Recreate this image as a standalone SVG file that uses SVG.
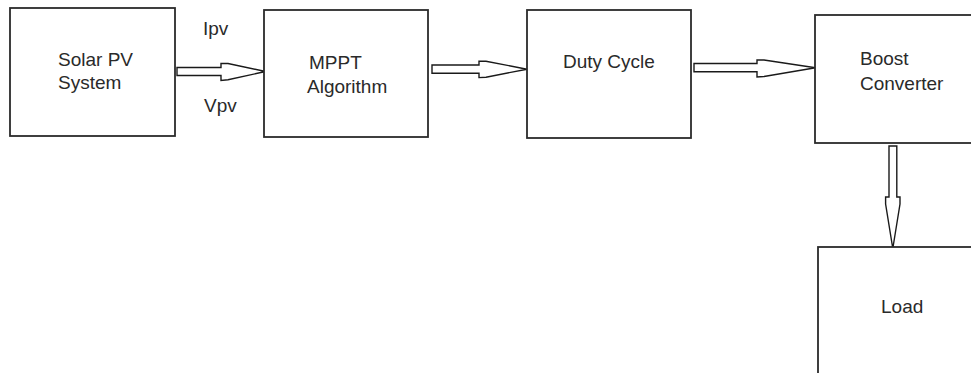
<svg xmlns="http://www.w3.org/2000/svg" width="971" height="373" viewBox="0 0 971 373">
  <style>
    .box { fill: #ffffff; stroke: #2b2b2b; stroke-width: 1.8; }
    .arrow { fill: #ffffff; stroke: #1a1a1a; stroke-width: 1.4; stroke-linejoin: miter; }
    .label { font-family: "Liberation Sans", Arial, sans-serif; font-size: 19px; fill: #2a2a2a; }
  </style>
  <rect x="0" y="0" width="971" height="373" fill="#ffffff"/>

  <!-- block arrows between stages -->
  <g id="connectors">
    <polygon class="arrow" points="177,67.5 221,67.5 221,63.5 228,63.5 265.5,71.5 228,79.8 221,80.5 221,75.5 177,75.5"/>
    <polygon class="arrow" points="432,65 479,65 479,61.2 486,61.2 527,69.2 486,77.2 479,77.6 479,73.3 432,73.3"/>
    <polygon class="arrow" points="694,63.5 757,63.5 757,60 764,60 815.5,67.8 764,76.5 757,77 757,71.8 694,71.8"/>
    <polygon class="arrow" points="889,146 896.8,146 896.8,197 900,197 900,204 892.8,248.5 885.6,204 885.6,197 889,197"/>
  </g>

  <g id="solar-pv">
    <rect class="box" x="10" y="8" width="165" height="128"/>
    <text class="label" x="58" y="66">Solar PV</text>
    <text class="label" x="58" y="89">System</text>
  </g>

  <g id="pv-signals">
    <text class="label" x="203" y="35">Ipv</text>
    <text class="label" x="204" y="112">Vpv</text>
  </g>

  <g id="mppt">
    <rect class="box" x="264" y="10" width="164" height="127"/>
    <text class="label" x="309" y="69">MPPT</text>
    <text class="label" x="307" y="93">Algorithm</text>
  </g>

  <g id="duty-cycle">
    <rect class="box" x="527" y="10" width="164" height="128"/>
    <text class="label" x="563" y="68">Duty Cycle</text>
  </g>

  <g id="boost-converter">
    <rect class="box" x="815" y="15" width="200" height="128"/>
    <text class="label" x="860" y="65">Boost</text>
    <text class="label" x="860" y="90">Converter</text>
  </g>

  <g id="load">
    <rect class="box" x="818" y="247" width="200" height="160"/>
    <text class="label" x="881" y="313">Load</text>
  </g>
</svg>
